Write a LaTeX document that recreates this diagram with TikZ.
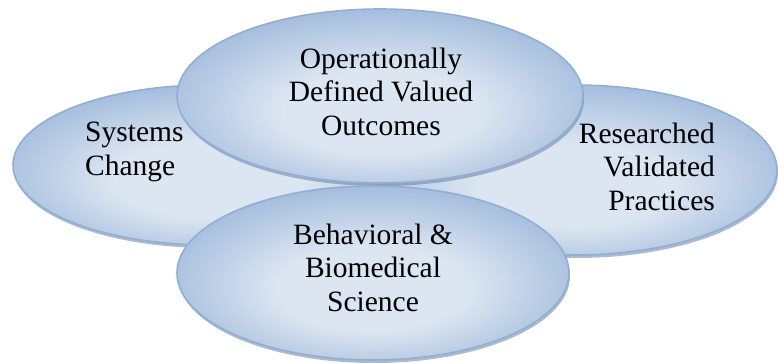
\documentclass[tikz,border=0pt]{standalone}
\usepackage{fontspec}
\setmainfont{Liberation Serif}
\usetikzlibrary{shapes.geometric,shadows}
\definecolor{elllight}{HTML}{DCE6F2}
\definecolor{elldark}{HTML}{A7BFDE}
\definecolor{ellline}{HTML}{8FAFD8}
\definecolor{ellshadow}{HTML}{6F8096}
\pgfdeclareradialshading{ellshade}{\pgfpoint{0bp}{-6bp}}{%
  color(0bp)=(elllight); color(12bp)=(elllight); color(27bp)=(elldark); color(50bp)=(elldark)}
\begin{document}
\begin{tikzpicture}[x=1pt,y=-1pt,
  bubble/.style={ellipse, inner sep=0pt, outer sep=0pt, draw=ellline, line width=1.6pt,
    shading=ellshade,
    drop shadow={shadow xshift=1pt, shadow yshift=-3pt, fill=ellshadow, opacity=0.55}},
  lbl/.style={font=\fontsize{29.5}{33.3}\selectfont, inner sep=0pt, anchor=base}]
\useasboundingbox (0,0) rectangle (778,362);
\node[bubble, minimum width=392pt, minimum height=160pt] (sys) at (209,165) {};
\node[bubble, minimum width=404pt, minimum height=170pt] (res) at (575,170) {};
\node[bubble, minimum width=406pt, minimum height=174pt] (ops) at (380,96) {};
\node[bubble, minimum width=392pt, minimum height=174pt] (beh) at (373,273) {};
\node[lbl, align=left, anchor=base west] (tsys) at (85,175) {Systems\\Change};
\node[lbl, align=center] (tops) at (381,135) {Operationally\\Defined Valued\\Outcomes};
\node[lbl, align=right, anchor=base east] (tres) at (715,210) {Researched\\Validated\\Practices};
\node[lbl, align=center] (tbeh) at (373,311) {Behavioral \&\\Biomedical\\Science};
\end{tikzpicture}
\end{document}
